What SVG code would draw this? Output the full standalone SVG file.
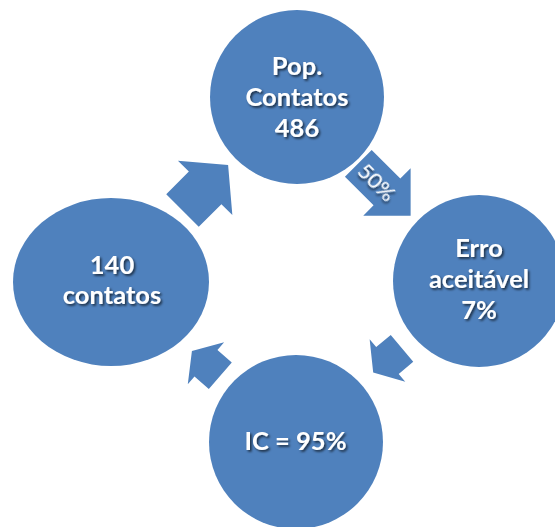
<svg xmlns="http://www.w3.org/2000/svg" width="555" height="527" viewBox="0 0 555 527">
  <defs>
    <filter id="txtShadow" x="-20%" y="-20%" width="140%" height="160%">
      <feDropShadow dx="1.6" dy="1.8" stdDeviation="1" flood-color="#000" flood-opacity="0.65"/>
    </filter>
    <!-- block arrow shapes, pointing along +x from their back edge -->
    <polygon id="arrowLarge" points="0,-18.9 40.5,-18.9 40.5,-33.5 74,0 40.5,33.5 40.5,18.9 0,18.9"/>
    <polygon id="arrowWide" points="0,-23 32,-23 32,-38.5 64.5,0 32,38.5 32,23 0,23"/>
    <polygon id="arrowSmall" points="0,-17.5 19,-17.5 19,-27.7 37.6,0 19,27.7 19,17.5 0,17.5"/>
  </defs>
  <style>
    .node { fill: #4F81BD; }
    .arrow { fill: #4F81BD; }
    .label { font-family: Lato, "Open Sans", "Liberation Sans", sans-serif; font-weight: bold; font-size: 25.5px; fill: #FFFFFF; text-anchor: middle; filter: url(#txtShadow); }
    .pct { font-family: Lato, "Open Sans", "Liberation Sans", sans-serif; font-weight: normal; font-size: 22px; fill: #FFFFFF; text-anchor: middle; filter: url(#txtShadow); }
  </style>

  <rect width="555" height="527" fill="#FFFFFF"/>

  <g id="connectors">
    <g id="arrow-pop-erro">
      <use href="#arrowLarge" class="arrow" transform="translate(358.3,163.3) rotate(45)"/>
      <text class="pct" transform="translate(377,182) rotate(45)" x="0" y="7.5">50%</text>
    </g>
    <use id="arrow-erro-ic" href="#arrowSmall" class="arrow" transform="translate(402,348.3) rotate(140)"/>
    <use id="arrow-ic-contatos" href="#arrowSmall" class="arrow" transform="translate(220.3,375.7) rotate(-139)"/>
    <use id="arrow-contatos-pop" href="#arrowWide" class="arrow" transform="translate(182.5,210.5) rotate(-45)"/>
  </g>

  <g id="node-pop">
    <circle class="node" cx="297" cy="97" r="87"/>
    <text class="label" x="297" y="75">Pop.</text>
    <text class="label" x="297" y="105.5">Contatos</text>
    <text class="label" x="297" y="136.5">486</text>
  </g>

  <g id="node-erro">
    <circle class="node" cx="479" cy="281" r="86"/>
    <text class="label" x="479" y="257">Erro</text>
    <text class="label" x="479" y="288">aceitável</text>
    <text class="label" x="479" y="318.5">7%</text>
  </g>

  <g id="node-ic">
    <circle class="node" cx="296" cy="442" r="87"/>
    <text class="label" x="295.5" y="450">IC = 95%</text>
  </g>

  <g id="node-contatos">
    <ellipse class="node" cx="111" cy="282" rx="98" ry="84"/>
    <text class="label" x="112" y="273.5">140</text>
    <text class="label" x="112" y="304">contatos</text>
  </g>
</svg>
